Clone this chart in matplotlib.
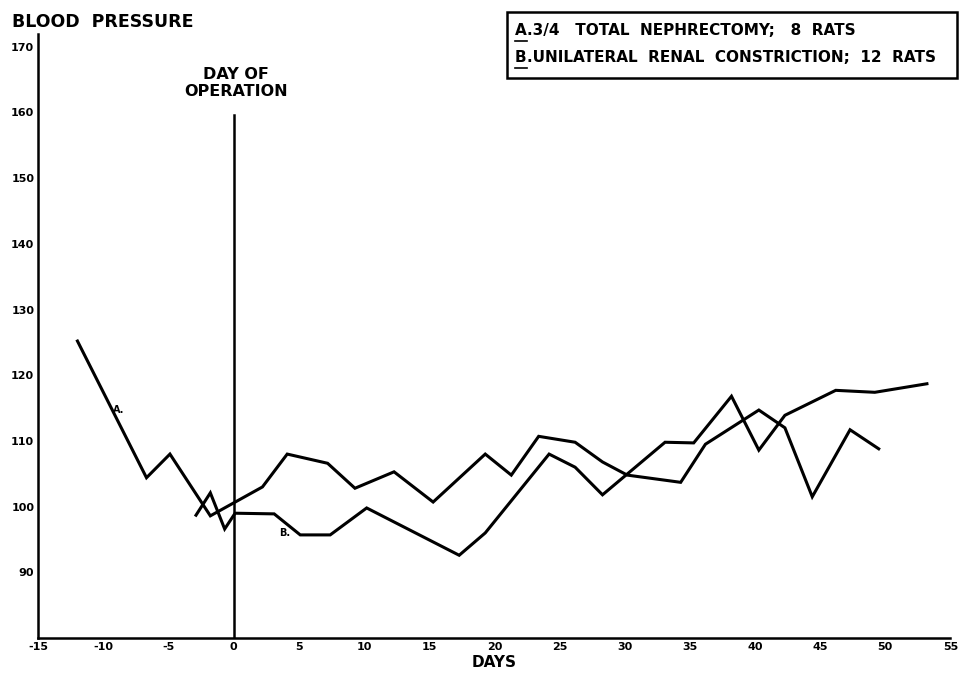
import matplotlib
matplotlib.use("Agg")
import matplotlib.pyplot as plt
from matplotlib.patches import Rectangle
from matplotlib.lines import Line2D

# --- data ---
# curve A: 3/4 total nephrectomy
days_a = [-12, -6.7, -4.9, -1.8, 2.2, 4.1, 7.2, 9.3, 12.3, 15.3, 19.3, 21.3,
          23.4, 26.2, 28.3, 30.2, 34.3, 36.2, 40.3, 42.3, 44.4, 47.3, 49.5]
bp_a = [125.2, 104.4, 108.0, 98.6, 103.0, 108.0, 106.6, 102.8, 105.3, 100.7, 108.0, 104.8,
        110.7, 109.8, 106.8, 104.8, 103.7, 109.5, 114.7, 112.0, 101.5, 111.7, 108.8]

# curve B: unilateral renal constriction
days_b = [-2.9, -1.8, -0.7, 0.1, 3.1, 5.1, 7.4, 10.2, 17.3, 19.3, 24.2, 26.2,
          28.3, 33.1, 35.3, 38.2, 40.3, 42.3, 46.2, 49.2, 53.2]
bp_b = [98.7, 102.1, 96.6, 99.0, 98.9, 95.7, 95.7, 99.8, 92.6, 96.0, 108.0, 106.0,
        101.8, 109.8, 109.7, 116.8, 108.6, 113.9, 117.7, 117.4, 118.7]

x_ticks = [-15, -10, -5, 0, 5, 10, 15, 20, 25, 30, 35, 40, 45, 50, 55]
y_ticks = [90, 100, 110, 120, 130, 140, 150, 160, 170]
legend_a = "3/4   TOTAL  NEPHRECTOMY;   8  RATS"
legend_b = "UNILATERAL  RENAL  CONSTRICTION;  12  RATS"

plt.rcParams['font.family'] = ['DejaVu Sans']
plt.rcParams['font.weight'] = 'bold'

fig = plt.figure(figsize=(9.59, 6.77), dpi=100)
ax = fig.add_axes([0.040, 0.0575, 0.951, 0.893])

ax.plot(days_a, bp_a, color='black', lw=2.2, solid_joinstyle='miter')
ax.plot(days_b, bp_b, color='black', lw=2.2, solid_joinstyle='miter')

# day of operation marker
ax.plot([0, 0], [80, 159.6], color='black', lw=1.8)
ax.text(0.2, 164.5, "DAY OF\nOPERATION", ha='center', va='center',
        fontsize=11.5, fontweight='bold', linespacing=1.15)

# curve labels
ax.text(-8.8, 114.7, "A.", fontsize=7, fontweight='bold', ha='center', va='center')
ax.text(3.9, 96.0, "B.", fontsize=7, fontweight='bold', ha='center', va='center')

ax.set_xlim(-15, 55)
ax.set_ylim(80, 172)
ax.set_xticks(x_ticks)
ax.set_xticklabels([str(t) for t in x_ticks], fontsize=8, fontweight='bold')
ax.set_yticks(y_ticks)
ax.set_yticklabels([str(t) for t in y_ticks], fontsize=8, fontweight='bold')
ax.tick_params(length=0, pad=3)
ax.spines['top'].set_visible(False)
ax.spines['right'].set_visible(False)
ax.spines['left'].set_linewidth(1.8)
ax.spines['bottom'].set_linewidth(1.8)
ax.set_xlabel("DAYS", fontsize=11, fontweight='bold', labelpad=2)

fig.text(0.013, 0.968, "BLOOD  PRESSURE", fontsize=12.5, fontweight='bold',
         ha='left', va='center')

# legend box
fig.patches.append(Rectangle((0.529, 0.885), 0.469, 0.098, transform=fig.transFigure,
                             fill=False, edgecolor='black', lw=1.8))
rows = [("A", legend_a, 0.955), ("B", legend_b, 0.915)]
fig.canvas.draw()
r = fig.canvas.get_renderer()
for letter, txt, yy in rows:
    t1 = fig.text(0.537, yy, letter, fontsize=11, fontweight='bold', ha='left', va='center')
    bb = t1.get_window_extent(r).transformed(fig.transFigure.inverted())
    fig.add_artist(Line2D([bb.x0, bb.x1], [bb.y0 - 0.004, bb.y0 - 0.004],
                          transform=fig.transFigure, color='black', lw=1.2))
    fig.text(bb.x1, yy, "." + txt, fontsize=11, fontweight='bold', ha='left', va='center')

fig.savefig("out.png", dpi=100)
